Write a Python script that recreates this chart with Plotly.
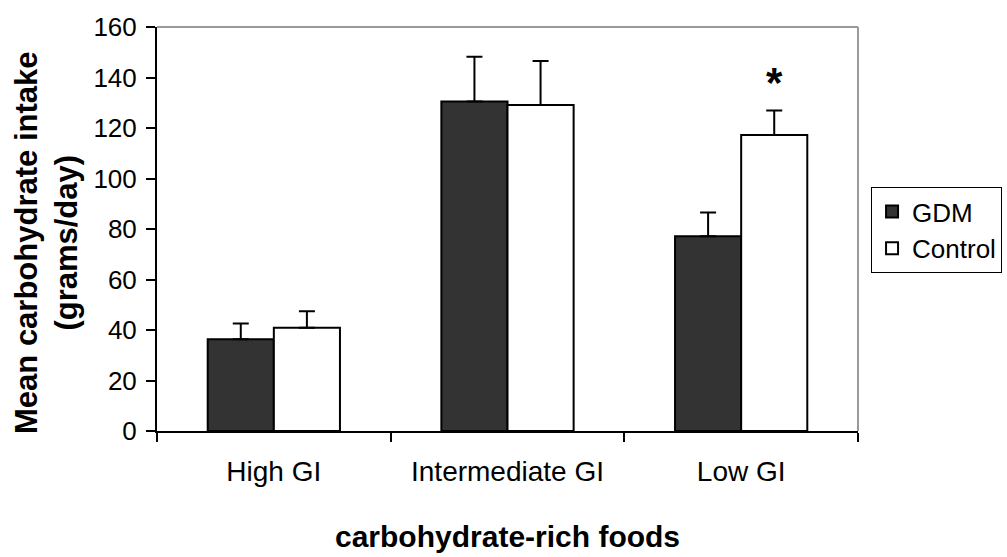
import plotly.graph_objects as go

# Carbohydrate intake by glycaemic-index class of food
categories = ["High GI", "Intermediate GI", "Low GI"]
gdm_mean = [36.3, 130.5, 77.1]
gdm_err = [6.3, 17.7, 9.4]
control_mean = [40.9, 129.1, 117.2]
control_err = [6.5, 17.4, 9.7]
y_ticks = [0, 20, 40, 60, 80, 100, 120, 140, 160]

FONT = "Liberation Sans, Arial, sans-serif"

fig = go.Figure()

fig.add_trace(go.Bar(
    name="GDM", x=categories, y=gdm_mean,
    marker=dict(color="#333333", line=dict(color="black", width=2)),
    error_y=dict(type="data", array=gdm_err, arrayminus=[0] * 3, symmetric=False,
                 color="black", thickness=2, width=8),
))
fig.add_trace(go.Bar(
    name="Control", x=categories, y=control_mean,
    marker=dict(color="white", line=dict(color="black", width=2)),
    error_y=dict(type="data", array=control_err, arrayminus=[0] * 3, symmetric=False,
                 color="black", thickness=2, width=8),
))

fig.update_layout(
    width=1007, height=557, autosize=False,
    margin=dict(l=157, r=149, t=25, b=126, pad=0),
    paper_bgcolor="white", plot_bgcolor="white",
    barmode="group", bargap=0.434, bargroupgap=0,
    font=dict(family=FONT, size=26, color="black"),
    showlegend=True,
    legend=dict(
        xref="container", yref="container",
        x=0.865, y=0.664, xanchor="left", yanchor="top",
        bgcolor="white", bordercolor="black", borderwidth=1,
        font=dict(family=FONT, size=26, color="black"),
        itemwidth=30, tracegroupgap=0,
    ),
)

fig.update_xaxes(
    type="category", range=[-0.5, 2.5],
    showline=True, linecolor="black", linewidth=2,
    ticks="outside", tickson="boundaries", ticklen=9, tickwidth=2, tickcolor="black",
    tickfont=dict(family=FONT, size=28), ticklabelstandoff=14,
    showgrid=False, zeroline=False,
)
fig.update_yaxes(
    range=[0, 160], tickvals=y_ticks,
    showline=True, linecolor="black", linewidth=2,
    ticks="outside", ticklen=9, tickwidth=2, tickcolor="black",
    tickfont=dict(family=FONT, size=26), ticklabelstandoff=4,
    showgrid=False, zeroline=False,
)

# gray frame along the top and right of the plot area
fig.add_shape(type="line", xref="paper", yref="paper", x0=0, x1=1, y0=1, y1=1,
              line=dict(color="#9a9a9a", width=2))
fig.add_shape(type="line", xref="paper", yref="paper", x0=1, x1=1, y0=0, y1=1,
              line=dict(color="#9a9a9a", width=2))

# significance marker above the Low GI control bar
fig.add_annotation(x="Low GI", y=control_mean[2] + control_err[2] + 1.2,
                   xref="x", yref="y", xshift=33, yanchor="bottom",
                   text="<b>*</b>", showarrow=False,
                   font=dict(family=FONT, size=42, color="black"))

# axis titles
fig.add_annotation(x=-0.158, y=0.466, xref="paper", yref="paper",
                   xanchor="center", yanchor="middle", textangle=-90,
                   text="<b>Mean carbohydrate intake<br>(grams/day)</b>",
                   showarrow=False, font=dict(family=FONT, size=31, color="black"))
fig.add_annotation(x=0.5, y=-0.262, xref="paper", yref="paper",
                   xanchor="center", yanchor="middle",
                   text="<b>carbohydrate-rich foods</b>",
                   showarrow=False, font=dict(family=FONT, size=30, color="black"))

fig.write_html("out.html")
